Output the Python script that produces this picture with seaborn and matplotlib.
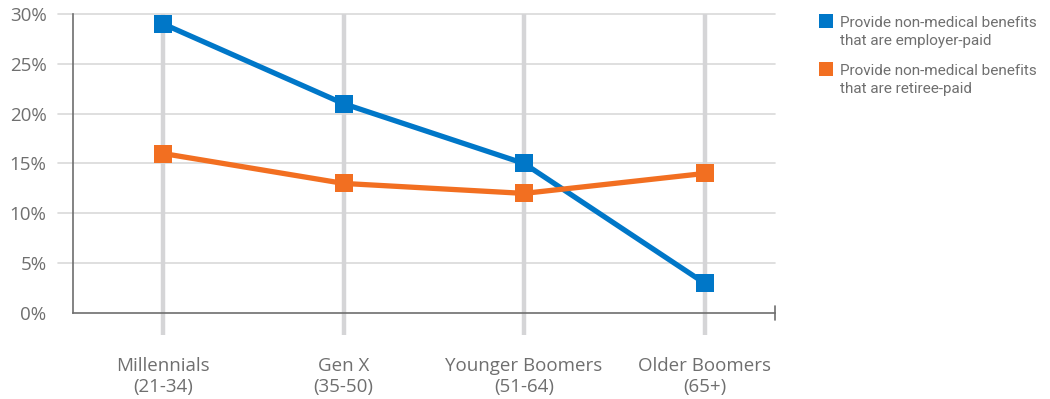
import matplotlib.pyplot as plt
import pandas as pd
import seaborn as sns
from matplotlib.lines import Line2D

# data
generations = ["Millennials\n(21-34)", "Gen X\n(35-50)", "Younger Boomers\n(51-64)", "Older Boomers\n(65+)"]
employer_paid = [29, 21, 15, 3]
retiree_paid = [16, 13, 12, 14]
series_names = ["Provide non-medical benefits\nthat are employer-paid",
                "Provide non-medical benefits\nthat are retiree-paid"]
y_ticks = [0, 5, 10, 15, 20, 25, 30]
colors = ["#0077c8", "#f26f21"]

df = pd.DataFrame({
    "pos": list(range(len(generations))) * 2,
    "value": employer_paid + retiree_paid,
    "series": [series_names[0]] * 4 + [series_names[1]] * 4,
})

sns.set_style("white")
plt.rcParams["font.family"] = ["Open Sans", "DejaVu Sans"]
grey_text = "#6f6f6f"

fig = plt.figure(figsize=(10.5, 3.99), dpi=100)
ax = fig.add_axes([0.0695, 0.2155, 0.6685, 0.7495])

# horizontal grid lines (stick out left of the spine)
for t in y_ticks[1:]:
    ax.plot([-0.021, 1], [t, t], transform=ax.get_yaxis_transform(), color="#d9d9d9",
            lw=1.2, clip_on=False, zorder=0)

# vertical category lines, extending below axis
for i in range(len(generations)):
    ax.plot([i, i], [-0.074, 1], transform=ax.get_xaxis_transform(), color="#d5d5d7",
            lw=3.2, clip_on=False, zorder=0.5, solid_capstyle="butt")

sns.lineplot(data=df, x="pos", y="value", hue="series", palette=colors, marker="s",
             markersize=12.5, markeredgewidth=0, linewidth=3.8, ax=ax, legend=False, zorder=3)

ax.set_xlim(-0.5, 3.39)
ax.set_ylim(0, 30)
ax.set_yticks(y_ticks)
ax.set_yticklabels([f"{t}%" for t in y_ticks])
ax.set_xticks(range(len(generations)))
ax.set_xticklabels(generations, linespacing=1.2)
ax.set_xlabel("")
ax.set_ylabel("")
ax.tick_params(axis="y", length=0, pad=19, labelsize=13.5, labelcolor=grey_text)
ax.tick_params(axis="x", length=0, pad=32, labelsize=13.5, labelcolor=grey_text)

for side in ["top", "right"]:
    ax.spines[side].set_visible(False)
for side in ["left", "bottom"]:
    ax.spines[side].set_color("#6e6e6e")
    ax.spines[side].set_linewidth(1.2)
# end tick at right of x axis
ax.plot([1, 1], [-0.022, 0.022], transform=ax.transAxes, color="#6e6e6e", lw=1.2, clip_on=False)

# legend: square aligned with the first line of each label
for i, (name, c) in enumerate(zip(series_names, colors)):
    y_sq = 0.947 - i * 0.1203
    fig.add_artist(Line2D([0.7867], [y_sq], linestyle="none", marker="s", markersize=10,
                          markeredgewidth=0, color=c, transform=fig.transFigure))
    fig.text(0.8, y_sq + 0.013, name, va="top", ha="left", color=grey_text, fontsize=11,
             family=["Roboto", "DejaVu Sans"], linespacing=1.4)

fig.savefig("out.png", dpi=100)
